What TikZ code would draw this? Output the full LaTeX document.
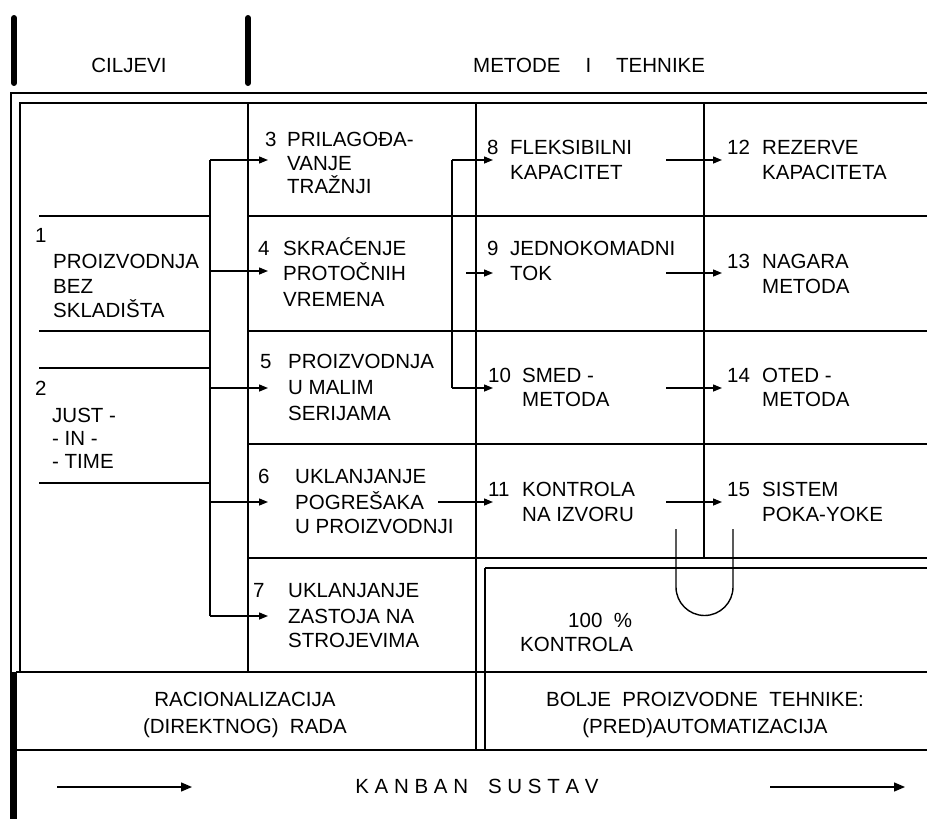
\documentclass[tikz,border=0pt]{standalone}
\usepackage{fontspec}
\setmainfont{Liberation Sans}
\usetikzlibrary{arrows.meta}
\begin{document}
\begin{tikzpicture}[x=1pt,y=-1pt,
  ln/.style={line width=1.4pt},
  arr/.style={line width=1.4pt,-{Triangle[length=9pt,width=7pt]}},
  bigarr/.style={line width=1.4pt,-{Triangle[length=11pt,width=9pt]}},
  tx/.style={anchor=base west,inner sep=0pt,font=\fontsize{20.5}{24.5}\selectfont},
  tc/.style={anchor=base,inner sep=0pt,font=\fontsize{20.5}{24.5}\selectfont},
  bar/.style={line width=6pt,line cap=round}]
\useasboundingbox (0,0) rectangle (927,819);
\fill[white] (0,0) rectangle (927,819);
% header bars
\draw[bar] (14,18) -- (14,83);
\draw[bar] (248,18) -- (248,83);
\node[tc] (hc) at (129,72.7) {CILJEVI};
\node[tx] (hm) at (473,72.7) {METODE\hspace{25pt}I\hspace{25pt}TEHNIKE};
% frame
\draw[ln] (927,93) -- (11,93) -- (11,672);
\draw[ln] (927,103) -- (20,103) -- (20,672);
\draw[line width=7pt] (13,672) -- (13,819);
% grid
\draw[ln] (248,103) -- (248,672);
\draw[ln] (476,103) -- (476,750);
\draw[ln] (704,103) -- (704,558);
\draw[ln] (485,568) -- (485,750);
\foreach \y in {216,331,444,558} \draw[ln] (248,\y) -- (927,\y);
\draw[ln] (485,568) -- (927,568);
\draw[ln] (16,672) -- (927,672);
\draw[ln] (16,750) -- (927,750);
% goal lines
\foreach \y in {216,331,368,483} \draw[ln] (39,\y) -- (210,\y);
% left connector
\coordinate (L3) at (210,160); \coordinate (A3) at (268,160);
\coordinate (L4) at (210,271); \coordinate (A4) at (268,271);
\coordinate (L5) at (210,388); \coordinate (A5) at (268,388);
\coordinate (L6) at (210,502); \coordinate (A6) at (268,502);
\coordinate (L7) at (210,616); \coordinate (A7) at (268,616);
\draw[ln] (L3) -- (L7);
\foreach \i in {3,...,7} \draw[arr] (L\i) -- (A\i);
% middle connector
\coordinate (M8) at (452,160); \coordinate (B8) at (493,160);
\coordinate (M10) at (452,388); \coordinate (B10) at (493,388);
\coordinate (M9) at (466,273); \coordinate (B9) at (493,273);
\coordinate (M11) at (438,502); \coordinate (B11) at (493,502);
\draw[ln] (M8) -- (M10);
\foreach \i in {8,...,11} \draw[arr] (M\i) -- (B\i);
% right arrows
\coordinate (R12) at (666,160); \coordinate (C12) at (722,160);
\coordinate (R13) at (666,273); \coordinate (C13) at (722,273);
\coordinate (R14) at (666,388); \coordinate (C14) at (722,388);
\coordinate (R15) at (666,502); \coordinate (C15) at (722,502);
\foreach \i in {12,...,15} \draw[arr] (R\i) -- (C\i);
% U shape
\draw[ln] (676,529) -- (676,587) .. controls (676,602.7) and (688.8,615.5) .. (704.5,615.5)
  .. controls (720.2,615.5) and (733,602.7) .. (733,587) -- (733,529);
% goals text
\node[tx] (n1) at (35,242) {1};
\node[tx] (n1a) at (53,268) {PROIZVODNJA};
\node[tx] (n1b) at (53,293) {BEZ};
\node[tx] (n1c) at (53,317) {SKLADIŠTA};
\node[tx] (n2) at (35,395) {2};
\node[tx] (n2a) at (52,422) {JUST -};
\node[tx] (n2b) at (52,445) {- IN -};
\node[tx] (n2c) at (52,468) {- TIME};
% column 1
\node[tx] (n3) at (265,146.5) {3};
\node[tx] (n3a) at (287,146.5) {PRILAGOĐA-};
\node[tx] (n3b) at (287,170) {VANJE};
\node[tx] (n3c) at (287,193.5) {TRAŽNJI};
\node[tx] (n4) at (258,255) {4};
\node[tx] (n4a) at (283,255) {SKRAĆENJE};
\node[tx] (n4b) at (283,280.5) {PROTOČNIH};
\node[tx] (n4c) at (283,306) {VREMENA};
\node[tx] (n5) at (260,368) {5};
\node[tx] (n5a) at (288,368) {PROIZVODNJA};
\node[tx] (n5b) at (288,394) {U MALIM};
\node[tx] (n5c) at (288,420) {SERIJAMA};
\node[tx] (n6) at (258,483) {6};
\node[tx] (n6a) at (295,483) {UKLANJANJE};
\node[tx] (n6b) at (295,509) {POGREŠAKA};
\node[tx] (n6c) at (295,533) {U PROIZVODNJI};
\node[tx] (n7) at (253,597) {7};
\node[tx] (n7a) at (288,597) {UKLANJANJE};
\node[tx] (n7b) at (288,623) {ZASTOJA NA};
\node[tx] (n7c) at (288,647) {STROJEVIMA};
% column 2
\node[tx] (n8) at (487,154) {8};
\node[tx] (n8a) at (510,154) {FLEKSIBILNI};
\node[tx] (n8b) at (510,179) {KAPACITET};
\node[tx] (n9) at (487,255.7) {9};
\node[tx] (n9a) at (510,255.7) {JEDNOKOMADNI};
\node[tx] (n9b) at (510,280) {TOK};
\node[tx] (n10) at (488,382.7) {10};
\node[tx] (n10a) at (522,382.7) {SMED -};
\node[tx] (n10b) at (522,406.7) {METODA};
\node[tx] (n11) at (488,496.7) {11};
\node[tx] (n11a) at (522,496.7) {KONTROLA};
\node[tx] (n11b) at (522,521.7) {NA IZVORU};
% column 3
\node[tx] (n12) at (727,154) {12};
\node[tx] (n12a) at (762,154) {REZERVE};
\node[tx] (n12b) at (762,179) {KAPACITETA};
\node[tx] (n13) at (727,268) {13};
\node[tx] (n13a) at (762,268) {NAGARA};
\node[tx] (n13b) at (762,293) {METODA};
\node[tx] (n14) at (727,382.7) {14};
\node[tx] (n14a) at (762,382.7) {OTED -};
\node[tx] (n14b) at (762,406.7) {METODA};
\node[tx] (n15) at (727,496.7) {15};
\node[tx] (n15a) at (762,496.7) {SISTEM};
\node[tx] (n15b) at (762,521.7) {POKA-YOKE};
% 100 % kontrola
\node[tx] (k1) at (568,627.3) {100\ \ \%};
\node[tx] (k2) at (520,651.7) {KONTROLA};
% bottom
\node[tc] (r1) at (245,706) {RACIONALIZACIJA};
\node[tc] (r2) at (245,733) {(DIREKTNOG)\ \ RADA};
\node[tc] (b1) at (705,706) {BOLJE\ \ PROIZVODNE\ \ TEHNIKE:};
\node[tc] (b2) at (705,733) {(PRED)AUTOMATIZACIJA};
\node[tc] (kb) at (477,793) {K A N B A N\hspace{20pt}S U S T A V};
\coordinate (k1s) at (57,787); \coordinate (k1e) at (192,787);
\coordinate (k2s) at (770,787); \coordinate (k2e) at (905,787);
\draw[bigarr] (k1s) -- (k1e);
\draw[bigarr] (k2s) -- (k2e);
\end{tikzpicture}
\end{document}
